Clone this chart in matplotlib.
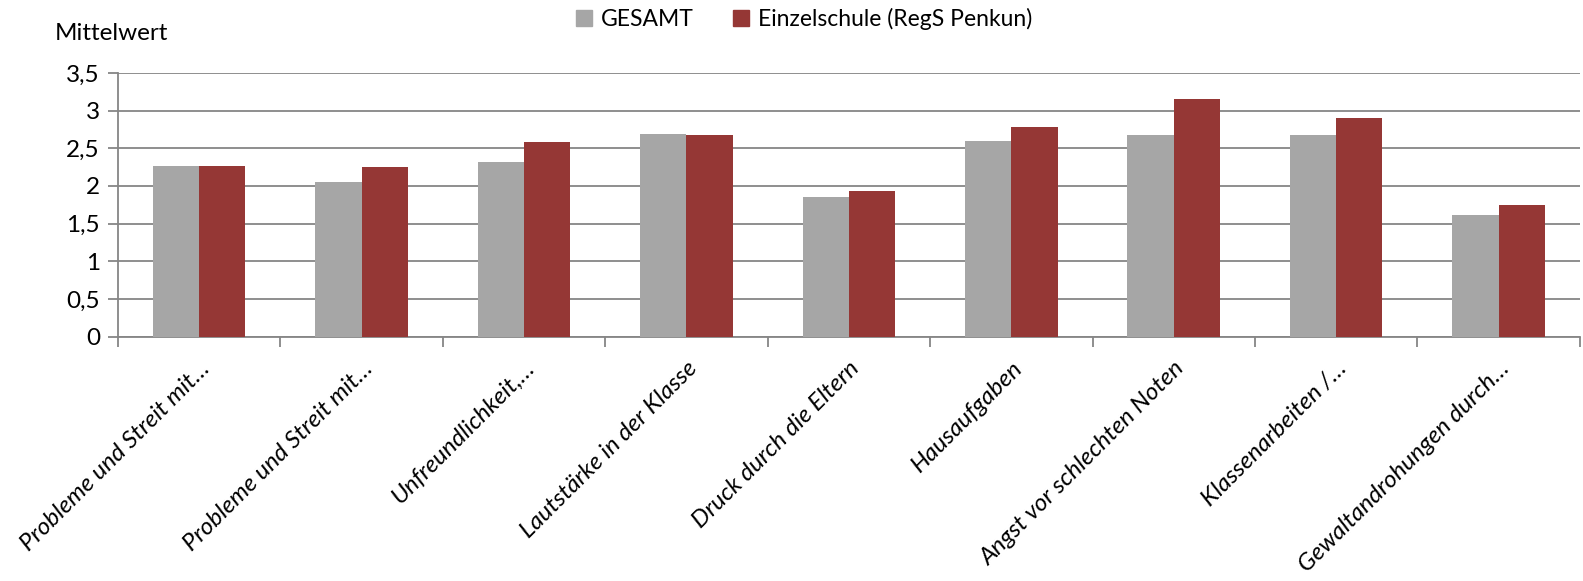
import matplotlib
matplotlib.use("Agg")
import matplotlib.pyplot as plt
import numpy as np
from matplotlib.patches import Patch
from matplotlib.ticker import FixedLocator

categories = [
    "Probleme und Streit mit…",
    "Probleme und Streit mit…",
    "Unfreundlichkeit,…",
    "Lautstärke in der Klasse",
    "Druck durch die Eltern",
    "Hausaufgaben",
    "Angst vor schlechten Noten",
    "Klassenarbeiten /…",
    "Gewaltandrohungen durch…",
]
gesamt = [2.26, 2.05, 2.32, 2.69, 1.86, 2.60, 2.68, 2.68, 1.61]
einzelschule = [2.26, 2.25, 2.58, 2.68, 1.94, 2.78, 3.15, 2.90, 1.75]
series_names = ["GESAMT", "Einzelschule (RegS Penkun)"]
yticks = [0, 0.5, 1, 1.5, 2, 2.5, 3, 3.5]
ytick_labels = ["0", "0,5", "1", "1,5", "2", "2,5", "3", "3,5"]
ylabel = "Mittelwert"

plt.rcParams['font.family'] = ['Lato', 'DejaVu Sans']

c_gray = "#A6A6A6"
c_red = "#953735"
c_axis = "#868686"
fs = 17.5

fig = plt.figure(figsize=(15.83, 5.81), dpi=100)
ax = fig.add_axes([0.0745, 0.4205, 0.9235, 0.4539])

x = np.arange(len(categories))
w = 0.285
ax.bar(x - w / 2, gesamt, width=w, color=c_gray, zorder=3)
ax.bar(x + w / 2, einzelschule, width=w, color=c_red, zorder=3)

ax.set_xlim(-0.5, len(categories) - 0.5)
ax.set_ylim(0, 3.5)
ax.set_yticks(yticks)
ax.set_yticklabels(ytick_labels, fontsize=fs)
ax.yaxis.grid(True, color=c_axis, linewidth=1.3, zorder=0)
ax.set_axisbelow(True)

ax.set_xticks(x)
ax.set_xticklabels(categories, rotation=45, ha='right', va='top',
                   rotation_mode='anchor', fontsize=fs, style='italic')
ax.tick_params(axis='x', which='major', length=0, pad=15)
ax.xaxis.set_minor_locator(FixedLocator(np.arange(-0.5, len(categories), 1.0)))
ax.tick_params(axis='x', which='minor', length=7, color=c_axis, width=1.3)
ax.tick_params(axis='y', length=7, color=c_axis, width=1.3, pad=6)

for s in ['top', 'right']:
    ax.spines[s].set_visible(False)
for s in ['left', 'bottom']:
    ax.spines[s].set_color(c_axis)
    ax.spines[s].set_linewidth(1.3)

fig.text(0.0345, 0.932, ylabel, fontsize=fs, va='baseline', ha='left')

handles = [Patch(color=c_gray), Patch(color=c_red)]
fig.legend(handles, series_names, loc='upper center', bbox_to_anchor=(0.508, 1.022),
           ncol=2, frameon=False, fontsize=16.5, handlelength=0.7, handleheight=0.7,
           handletextpad=0.4, columnspacing=1.7)

fig.savefig("out.png", dpi=100)
